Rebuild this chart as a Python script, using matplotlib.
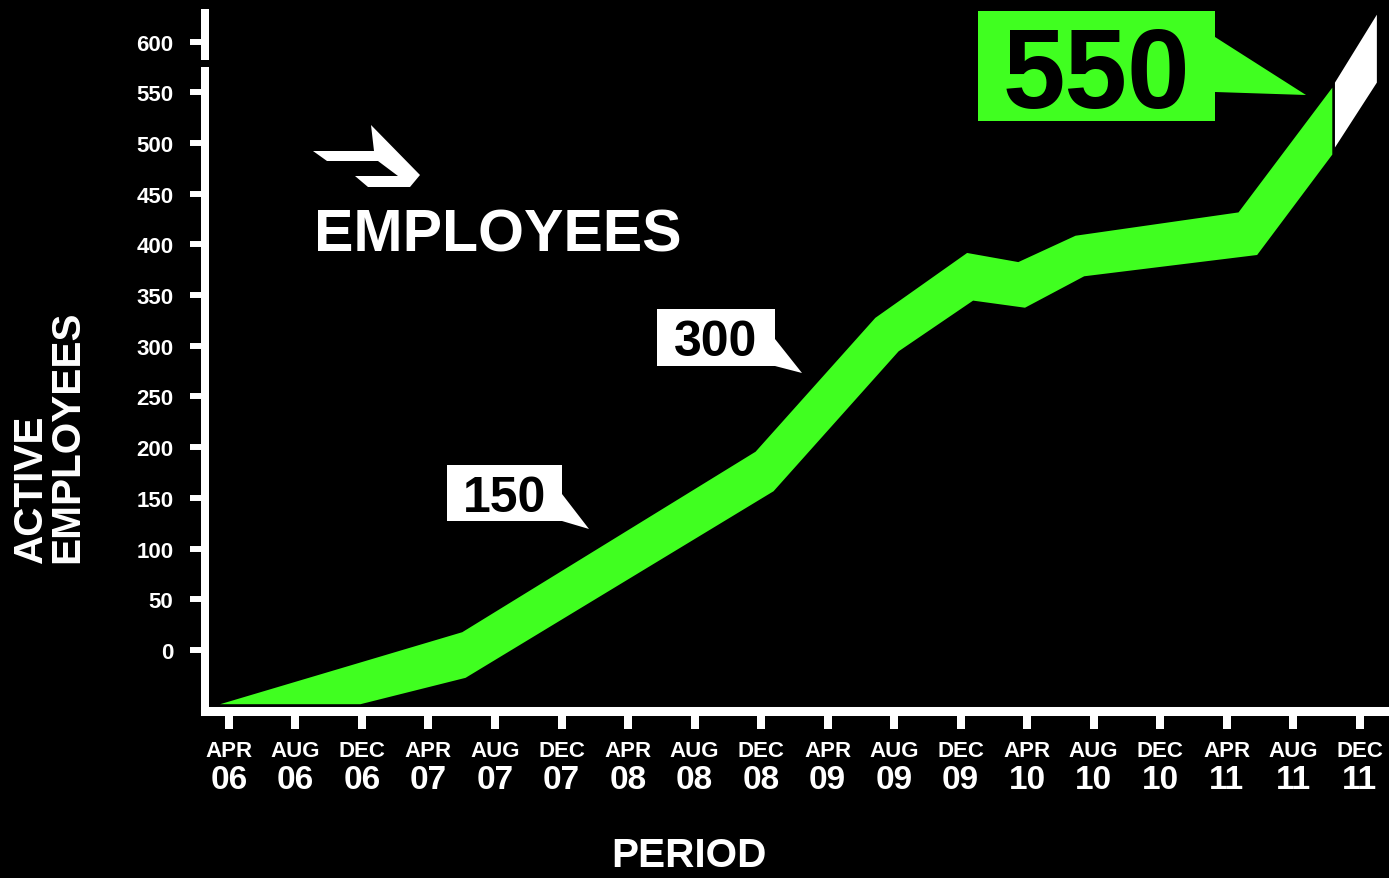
import matplotlib
matplotlib.use("Agg")
import matplotlib.pyplot as plt
from matplotlib import font_manager as fm
from matplotlib.patches import Polygon
import numpy as np

W, H = 1389, 879
GREEN = "#40FF20"

names = {f.name for f in fm.fontManager.ttflist}
NARROW_OK = "Liberation Sans Narrow" in names
NARROW = "Liberation Sans Narrow" if NARROW_OK else "Liberation Sans"
SCALE = 1.0 if NARROW_OK else 0.885
REG = "Liberation Sans"

# ---------------- data ----------------
months = ["APR", "AUG", "DEC"] * 6
years = ["06"] * 3 + ["07"] * 3 + ["08"] * 3 + ["09"] * 3 + ["10"] * 3 + ["11"] * 3
y_ticks = [0, 50, 100, 150, 200, 250, 300, 350, 400, 450, 500, 550, 600]

# band edges (x = period index, 0 = APR 06, step = 4 months)
upper_x = [-0.14, 3.50, 7.91, 9.71, 11.09, 11.86, 12.72, 15.17, 16.58]
upper_y = [-53, 18, 196, 328, 392, 383, 409, 432, 555]
lower_x = [-0.14, 1.97, 3.55, 8.18, 10.06, 11.18, 11.96, 12.85, 15.45, 16.58]
lower_y = [-53, -53, -27, 157, 295, 345, 338, 369, 390, 489]

# projection segment (white)
proj_x = [16.62, 17.25]
proj_upper = [560, 627]
proj_lower = [496, 560]

callout_values = [150, 300, 550]
title = "EMPLOYEES"
xlabel = "PERIOD"
ylabel_lines = ["ACTIVE", "EMPLOYEES"]


def fx(px):
    return px / W


def fy(py):
    return 1 - py / H


# ---------------- figure ----------------
fig = plt.figure(figsize=(W / 100, H / 100), dpi=100, facecolor="black")
ax = fig.add_axes([fx(205), fy(712), (W - 205) / W, (712 - 10) / H])
ax.set_facecolor("black")
ax.set_xlim(-0.36, 17.44)
ax.set_ylim(-60.2, 632.1)

xs = sorted(set(upper_x) | set(lower_x))
up = np.interp(xs, upper_x, upper_y)
lo = np.interp(xs, lower_x, lower_y)
ax.fill_between(xs, lo, up, color=GREEN, linewidth=0)
ax.fill_between(proj_x, proj_lower, proj_upper, color="white", linewidth=0)

# spines
for s in ["top", "right", "left"]:
    ax.spines[s].set_visible(False)
ax.spines["bottom"].set_color("white")
ax.spines["bottom"].set_linewidth(6.5)
ytr = ax.get_yaxis_transform()
ax.plot([0, 0], [-64.8, 575], color="white", lw=5.76, transform=ytr,
        clip_on=False, solid_capstyle="butt")
ax.plot([0, 0], [582, 632.1], color="white", lw=5.76, transform=ytr,
        clip_on=False, solid_capstyle="butt")

# ticks
ax.set_yticks(y_ticks)
ax.set_yticklabels([str(v) for v in y_ticks], fontsize=16, fontweight="bold",
                   color="white", family=REG)
ax.tick_params(axis="y", direction="out", length=10.8, width=4.3,
               color="white", pad=12)
ax.set_xticks(range(len(months)))
ax.set_xticklabels(months, fontsize=16, fontweight="bold", color="white",
                   family=REG)
ax.tick_params(axis="x", direction="out", length=13, width=5.76,
               color="white", pad=8)
xtr = ax.get_xaxis_transform()
for i, yr in enumerate(years):
    ax.text(i, (712 - 789) / 702, yr, transform=xtr, ha="center",
            va="baseline", fontsize=24, fontweight="bold", color="white",
            family=REG)

# axis labels
fig.text(fx(689), fy(856), xlabel, ha="center", va="center",
         fontsize=33 * SCALE, fontweight="bold", color="white", family=NARROW)
for xpx, txt in zip([31, 67], ylabel_lines):
    fig.text(fx(xpx), fy(563), txt, rotation=90, rotation_mode="anchor",
             ha="left", va="center", fontsize=32 * SCALE * 1.03,
             fontweight="bold", color="white", family=NARROW)

# title with arrow icon
fig.text(fx(314), fy(252), title, ha="left", va="baseline",
         fontsize=48 * SCALE, fontweight="bold", color="white", family=NARROW)
icon = [(313, 152), (374, 152), (371, 126), (420, 176), (410, 188),
        (368, 188), (355, 177), (398, 177), (378, 162), (327, 162)]
fig.patches.append(Polygon([(fx(a), fy(b)) for a, b in icon], closed=True,
                           transform=fig.transFigure, facecolor="white",
                           edgecolor="none"))


def callout(box, tip, val, fc, tc, size):
    x0, y0, x1, y1 = box
    tx, ty, tb = tip
    pts = [(x0, y0), (x1, y0), (x1, ty), (tx[0], tx[1]), (x1, tb), (x1, y1),
           (x0, y1)]
    fig.patches.append(Polygon([(fx(a), fy(b)) for a, b in pts], closed=True,
                               transform=fig.transFigure, facecolor=fc,
                               edgecolor="none"))
    fig.text(fx((x0 + x1) / 2), fy((y0 + y1) / 2), str(val), ha="center",
             va="center_baseline", fontsize=size, fontweight="bold",
             color=tc, family=REG)


callout((447, 466, 562, 522), ((589, 530), 495, 522), callout_values[0],
        "white", "black", 36)
callout((657, 310, 775, 367), ((802, 374), 340, 367), callout_values[1],
        "white", "black", 36)
callout((978, 12, 1215, 122), ((1306, 96), 38, 93), callout_values[2],
        GREEN, "black", 81)

fig.savefig("out.png", dpi=100, facecolor="black")
